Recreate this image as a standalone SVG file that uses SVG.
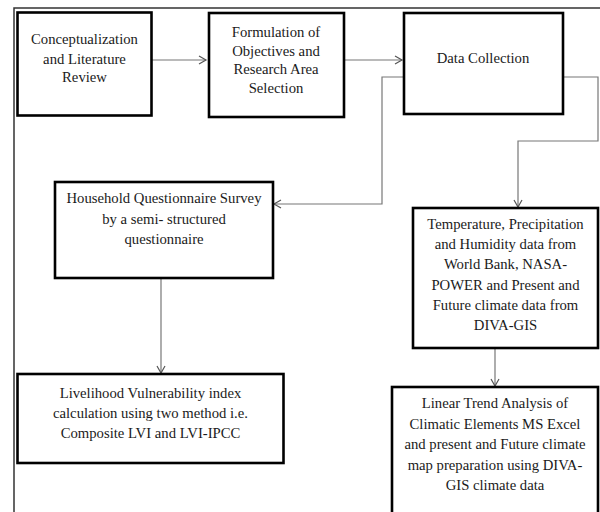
<svg xmlns="http://www.w3.org/2000/svg" width="600" height="512" viewBox="0 0 600 512">
<style>
.box{fill:#fff;stroke:#000;stroke-width:2.6}
.t{font-family:"Liberation Serif","Times New Roman",serif;font-size:14.7px;fill:#1a1a1a;text-anchor:middle}
.c{fill:none;stroke:#777;stroke-width:1.2}
.frame{fill:none;stroke:#333;stroke-width:1.5}
</style>
<defs>
<marker id="ah" markerUnits="userSpaceOnUse" markerWidth="12" markerHeight="12" refX="8" refY="5" orient="auto">
<path d="M1,1 L8,5 L1,9" fill="none" stroke="#555" stroke-width="1.2"/>
</marker>
</defs>
<rect width="600" height="512" fill="#fff"/>
<path class="frame" d="M14,512 V8 H600"/>
<g id="connectors">
<path class="c" d="M152,60 H206" marker-end="url(#ah)"/>
<path class="c" d="M344,60 H402" marker-end="url(#ah)"/>
<path class="c" d="M403,77 H382 V204 H274" marker-end="url(#ah)"/>
<path class="c" d="M563,77 H598 V141 H518 V207" marker-end="url(#ah)"/>
<path class="c" d="M161,278 V373" marker-end="url(#ah)"/>
<path class="c" d="M495,348 V386" marker-end="url(#ah)"/>
</g>
<g id="n1">
<rect class="box" x="17.5" y="12.5" width="134" height="103"/>
<text class="t" x="84.5" y="44">Conceptualization</text>
<text class="t" x="84.5" y="63.5">and Literature</text>
<text class="t" x="84.5" y="82">Review</text>
</g>
<g id="n2">
<rect class="box" x="209" y="13" width="135" height="104"/>
<text class="t" x="276" y="37">Formulation of</text>
<text class="t" x="276" y="55.5">Objectives and</text>
<text class="t" x="276" y="74">Research Area</text>
<text class="t" x="276" y="92.5">Selection</text>
</g>
<g id="n3">
<rect class="box" x="404" y="13" width="159" height="101"/>
<text class="t" x="483" y="63">Data Collection</text>
</g>
<g id="n4">
<rect class="box" x="55" y="182" width="218" height="96"/>
<text class="t" x="164" y="203">Household Questionnaire Survey</text>
<text class="t" x="164" y="224">by a semi- structured</text>
<text class="t" x="164" y="244">questionnaire</text>
</g>
<g id="n5">
<rect class="box" x="413" y="208" width="185" height="140"/>
<text class="t" x="505.5" y="229">Temperature, Precipitation</text>
<text class="t" x="505.5" y="249.2">and Humidity data from</text>
<text class="t" x="505.5" y="269.4">World Bank, NASA-</text>
<text class="t" x="505.5" y="289.6">POWER and Present and</text>
<text class="t" x="505.5" y="309.8">Future climate data from</text>
<text class="t" x="505.5" y="330">DIVA-GIS</text>
</g>
<g id="n6">
<rect class="box" x="17.5" y="374" width="266" height="89"/>
<text class="t" x="150.5" y="398">Livelihood Vulnerability index</text>
<text class="t" x="150.5" y="418">calculation using two method i.e.</text>
<text class="t" x="150.5" y="438">Composite LVI and LVI-IPCC</text>
</g>
<g id="n7">
<rect class="box" x="392" y="387" width="206" height="140"/>
<text class="t" x="495" y="408">Linear Trend Analysis of</text>
<text class="t" x="495" y="428.5">Climatic Elements MS Excel</text>
<text class="t" x="495" y="449">and present and Future climate</text>
<text class="t" x="495" y="469.5">map preparation using DIVA-</text>
<text class="t" x="495" y="490">GIS climate data</text>
</g>
</svg>
